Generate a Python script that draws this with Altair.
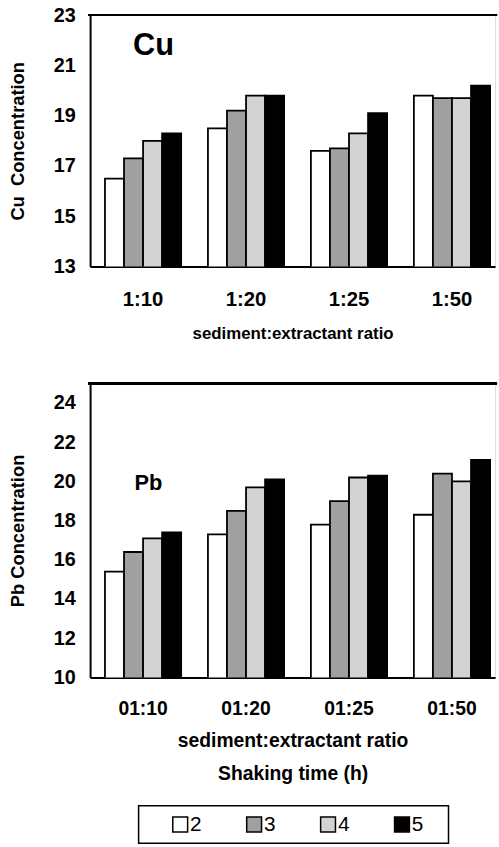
import altair as alt
import pandas as pd

FONT = "Liberation Sans"

ratios_cu = ["1:10", "1:20", "1:25", "1:50"]
ratios_pb = ["01:10", "01:20", "01:25", "01:50"]
times = ["2", "3", "4", "5"]

cu_2 = [16.5, 18.5, 17.6, 19.8]
cu_3 = [17.3, 19.2, 17.7, 19.7]
cu_4 = [18.0, 19.8, 18.3, 19.7]
cu_5 = [18.3, 19.8, 19.1, 20.2]

pb_2 = [15.4, 17.3, 17.8, 18.3]
pb_3 = [16.4, 18.5, 19.0, 20.4]
pb_4 = [17.1, 19.7, 20.2, 20.0]
pb_5 = [17.4, 20.1, 20.3, 21.1]

fills = ["#ffffff", "#a0a0a0", "#d3d3d3", "#000000"]


def long_df(ratios, series):
    rows = []
    for t, vals in zip(times, series):
        for r, v in zip(ratios, vals):
            rows.append({"ratio": r, "time": t, "value": v})
    return pd.DataFrame(rows)


cu_df = long_df(ratios_cu, [cu_2, cu_3, cu_4, cu_5])
pb_df = long_df(ratios_pb, [pb_2, pb_3, pb_4, pb_5])
legend_df = pd.DataFrame({"time": times})

W = 409
H1 = 254
H2 = 297

color_scale = alt.Scale(domain=times, range=fills)


def x_scale():
    return alt.Scale(paddingInner=0.26, paddingOuter=0.0963, align=0.75)


def panel(df, ratios, ymin, ymax, yticks, ytitle, ytitle_size, ytitle_pad,
          xlabel_size, xlabel_pad, xtitle, xtitle_size, xtitle_pad, height,
          tag, tag_size, tag_x, tag_y, with_legend):
    bars = alt.Chart(df).mark_bar(stroke="black", strokeWidth=1.8, clip=True).encode(
        x=alt.X("ratio:N", sort=ratios, scale=x_scale(),
                axis=alt.Axis(title=xtitle, labelAngle=0, ticks=False, tickSize=0,
                              labelFont=FONT, labelFontSize=xlabel_size,
                              labelFontWeight="bold", labelColor="black",
                              labelPadding=xlabel_pad,
                              titleFont=FONT, titleFontSize=xtitle_size,
                              titleFontWeight="bold", titleColor="black",
                              titlePadding=xtitle_pad, titleLineHeight=33,
                              domainColor="black", domainWidth=2)),
        xOffset=alt.XOffset("time:N", sort=times,
                            scale=alt.Scale(paddingInner=0, paddingOuter=0)),
        y=alt.Y("value:Q", scale=alt.Scale(domain=[ymin, ymax], zero=False, nice=False),
                axis=alt.Axis(title=ytitle, values=yticks, grid=False, ticks=False,
                              tickSize=0, labelFont=FONT, labelFontSize=20,
                              labelFontWeight="bold", labelColor="black",
                              labelPadding=15, minExtent=38, maxExtent=38,
                              titleFont=FONT, titleFontSize=ytitle_size,
                              titleFontWeight="bold", titleColor="black",
                              titlePadding=ytitle_pad,
                              domainColor="black", domainWidth=2)),
        color=alt.Color("time:N", scale=color_scale, legend=None),
    )
    top_line = alt.Chart(df).mark_rule(color="black", strokeWidth=2).encode(
        x=alt.value(-2), x2=alt.value(W + 2), y=alt.value(0)
    )
    label = alt.Chart(pd.DataFrame({"t": [tag]})).mark_text(
        font=FONT, fontSize=tag_size, fontWeight="bold", color="black"
    ).encode(text="t:N", x=alt.value(tag_x), y=alt.value(tag_y))
    layers = [bars, top_line, label]
    if with_legend:
        lx = alt.X("time:N", sort=times, axis=None,
                   scale=alt.Scale(type="point", range=[91, 315], padding=0))
        box = alt.Chart(pd.DataFrame({"b": [1]})).mark_rect(
            filled=False, stroke="black", strokeWidth=1.5
        ).encode(x=alt.value(49), x2=alt.value(362),
                 y=alt.value(426.5), y2=alt.value(464.5))
        squares = alt.Chart(legend_df).mark_square(
            size=225, stroke="black", strokeWidth=1.5, opacity=1
        ).encode(x=lx, y=alt.value(445.5),
                 fill=alt.Color("time:N", scale=color_scale, legend=None))
        texts = alt.Chart(legend_df).mark_text(
            font=FONT, fontSize=21, color="black", align="left", dx=10, dy=1
        ).encode(x=lx, y=alt.value(445.5), text="time:N")
        layers += [box, squares, texts]
    return alt.layer(*layers).resolve_scale(x="independent").properties(
        width=W, height=height)


top = panel(cu_df, ratios_cu, 13, 23, [13, 15, 17, 19, 21, 23],
            "Cu\u00a0\u00a0Concentration",
            18.5, 25, 20.5, 23, "sediment:extractant ratio", 17, 16, H1,
            "Cu", 31, 64, 31, False)

bottom = panel(pb_df, ratios_pb, 10, 25, [10, 12, 14, 16, 18, 20, 22, 24],
               "Pb Concentration", 18.5, 25, 19.5, 22.5,
               ["sediment:extractant ratio", "Shaking time (h)"], 19.5, 14, H2,
               "Pb", 22, 59, 101, True)

chart = alt.vconcat(top, bottom, spacing=40).properties(
    padding={"left": 8, "top": 0, "right": 0, "bottom": 0}
).configure_view(stroke=None).configure(background="white")

chart.save("out.html", embed_options={"renderer": "svg", "actions": False})
